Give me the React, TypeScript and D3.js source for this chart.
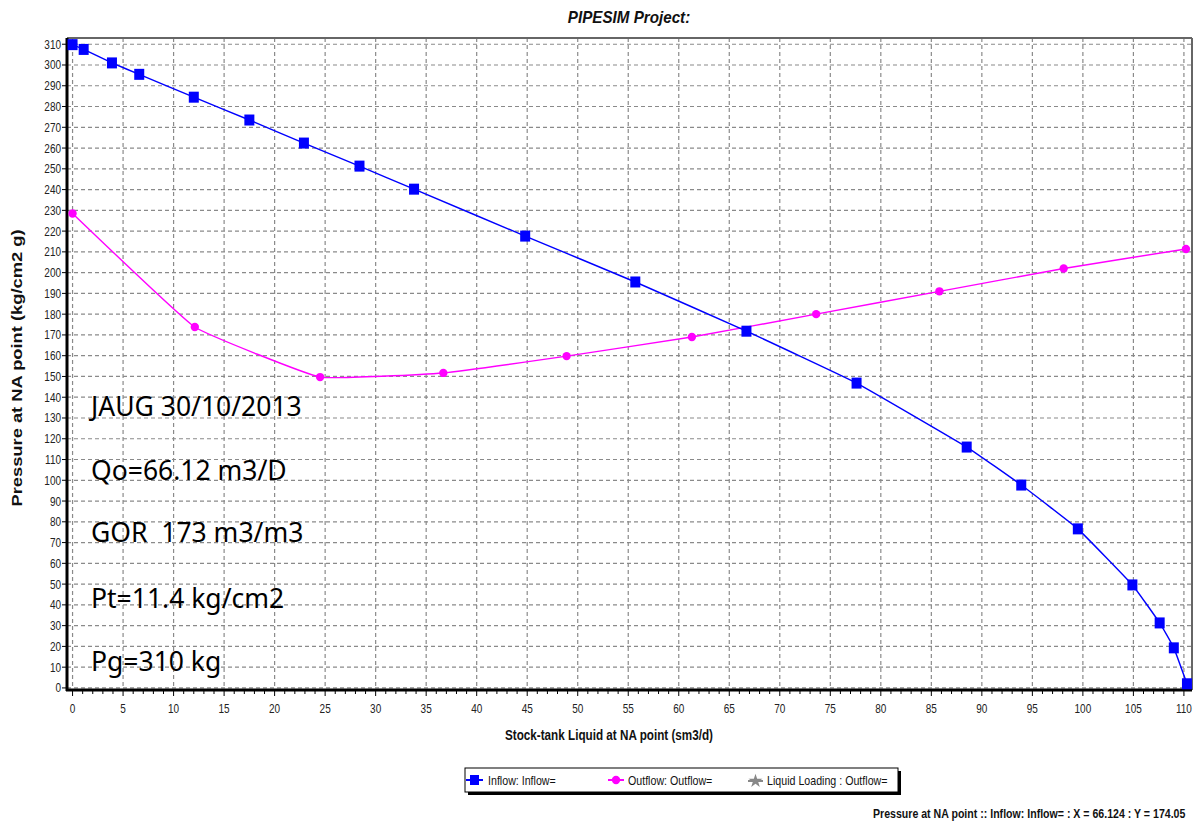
import React from "react";
import * as d3 from "d3";

// Inflow (IPR) curve
const inflowX = [0, 1.1, 3.9, 6.6, 12.0, 17.5, 22.9, 28.4, 33.8, 44.8, 55.7, 66.7, 77.6, 88.5, 93.9, 99.5, 104.9, 107.6, 109.0, 110.3];
const inflowY = [309.8, 307.5, 301, 295.5, 284.5, 273.5, 262.4, 251.3, 240.2, 217.6, 195.5, 171.8, 146.8, 116, 97.7, 76.6, 49.6, 31.3, 19.3, 2];

// Outflow (VLP) curve
const outflowX = [0, 12.1, 24.5, 36.7, 48.9, 61.3, 73.6, 85.8, 98.1, 110.2];
const outflowY = [228.5, 173.8, 149.7, 151.7, 159.8, 169, 180, 191, 202, 211.4];

const xTicks = d3.range(0, 111, 5);
const xMinor = d3.range(0, 111, 1);
const yTicks = d3.range(0, 311, 10);

const notes = ["JAUG 30/10/2013", "Qo=66.12 m3/D", "GOR  173 m3/m3", "Pt=11.4 kg/cm2", "Pg=310 kg"];
const noteY = [135, 104, 74, 42.5, 12];

const legendItems = ["Inflow: Inflow=", "Outflow: Outflow=", "Liquid Loading : Outflow="];

const W = 1204;
const H = 823;
const sans = "'Liberation Sans', Arial, sans-serif";

// narrow label: regular sans squeezed horizontally
function Narrow(props: { x: number; y: number; anchor?: string; size?: number; bold?: boolean; sx?: number; fill?: string; children: any }) {
  return (
    <g transform={`translate(${props.x},${props.y}) scale(${props.sx || 0.8},1)`}>
      <text
        textAnchor={props.anchor || "start"}
        fontFamily={sans}
        fontSize={props.size || 12.5}
        fontWeight={props.bold ? "bold" : "normal"}
        fill={props.fill || "#222"}
      >
        {props.children}
      </text>
    </g>
  );
}

export default function App() {
  const x = d3.scaleLinear().domain([-0.55, 110.8]).range([67, 1192]);
  const y = d3.scaleLinear().domain([-1, 313]).range([690, 38]);

  const inflow = inflowX.map((v, i) => [v, inflowY[i]] as [number, number]);
  const outflow = outflowX.map((v, i) => [v, outflowY[i]] as [number, number]);

  const line = d3
    .line<[number, number]>()
    .x((d) => x(d[0]))
    .y((d) => y(d[1]))
    .curve(d3.curveCardinal.tension(0.7));

  const star = d3.symbol().type(d3.symbolStar).size(60)();
  const dot = d3.symbol().type(d3.symbolCircle).size(55)();

  const left = 67, right = 1192, top = 38, bottom = 690;

  return (
    <svg width={W} height={H} style={{ position: "absolute", left: 0, top: 0, background: "#fff" }}>
      <Narrow x={629} y={23} anchor="middle" size={16} bold sx={0.95} fill="#111">
        <tspan fontStyle="italic">PIPESIM Project:</tspan>
      </Narrow>

      {/* grid */}
      <g stroke="#8a8a8a" strokeWidth={1.2} strokeDasharray="4,3">
        {yTicks.map((t) => (
          <line key={"gy" + t} x1={left} x2={right} y1={y(t)} y2={y(t)} />
        ))}
        {xTicks.map((t) => (
          <line key={"gx" + t} x1={x(t)} x2={x(t)} y1={top} y2={bottom} />
        ))}
      </g>

      {/* frame */}
      <line x1={left} x2={right} y1={top} y2={top} stroke="#666" strokeWidth={2} />
      <line x1={right} x2={right} y1={top} y2={bottom} stroke="#666" strokeWidth={2} />
      <line x1={left} x2={left} y1={top} y2={bottom + 1} stroke="#000" strokeWidth={3} />
      <line x1={left - 1} x2={right} y1={bottom} y2={bottom} stroke="#000" strokeWidth={3} />

      {/* y axis */}
      {yTicks.map((t) => (
        <g key={"yt" + t}>
          <line x1={left - 5} x2={left} y1={y(t)} y2={y(t)} stroke="#000" />
          <Narrow x={left - 6} y={y(t) + 4.5} anchor="end">{t}</Narrow>
        </g>
      ))}

      {/* x axis */}
      {xMinor.map((t) => (
        <line key={"xm" + t} x1={x(t)} x2={x(t)} y1={bottom} y2={bottom + (t % 5 === 0 ? 6 : 4)} stroke="#000" />
      ))}
      {xTicks.map((t) => (
        <Narrow key={"xt" + t} x={x(t)} y={bottom + 23} anchor="middle">{t}</Narrow>
      ))}

      <Narrow x={609} y={740} anchor="middle" size={15} bold sx={0.78} fill="#111">
        Stock-tank Liquid at NA point (sm3/d)
      </Narrow>
      <text
        transform="translate(22,368) rotate(-90)"
        textAnchor="middle"
        fontFamily={sans}
        fontWeight="bold"
        fontSize={14}
        fill="#111"
        textLength={277}
        lengthAdjust="spacingAndGlyphs"
      >
        Pressure at NA point (kg/cm2 g)
      </text>

      {/* annotations */}
      <g fontFamily="'Noto Sans', 'Open Sans', sans-serif" fontSize={26.5} fill="#000">
        {notes.map((n, i) => (
          <text key={n} x={91} y={y(noteY[i]) + 8} style={{ whiteSpace: "pre" }}>
            {n}
          </text>
        ))}
      </g>

      {/* series */}
      <path d={line(outflow) || ""} fill="none" stroke="#ff00ff" strokeWidth={1.4} />
      <path d={line(inflow) || ""} fill="none" stroke="#0000ff" strokeWidth={1.4} />
      {outflow.map((d, i) => (
        <path key={"o" + i} d={dot} transform={`translate(${x(d[0])},${y(d[1])})`} fill="#ff00ff" />
      ))}
      {inflow.map((d, i) => (
        <rect key={"i" + i} x={x(d[0]) - 5} y={y(d[1]) - 5.5} width={10} height={11} fill="#0000ff" />
      ))}

      {/* legend */}
      <rect x={468} y={771} width={433} height={24} fill="#000" />
      <rect x={465} y={768} width={433} height={24} fill="#fff" stroke="#000" strokeWidth={1} />
      <line x1={466} x2={483} y1={780} y2={780} stroke="#0000ff" strokeWidth={2} />
      <rect x={470} y={775} width={9} height={10} fill="#0000ff" />
      <Narrow x={488} y={785} size={13} sx={0.82} fill="#111">{legendItems[0]}</Narrow>
      <line x1={608} x2={624} y1={780} y2={780} stroke="#ff00ff" strokeWidth={2} />
      <path d={dot} transform="translate(616,780)" fill="#ff00ff" />
      <Narrow x={628} y={785} size={13} sx={0.82} fill="#111">{legendItems[1]}</Narrow>
      <line x1={748} x2={763} y1={781} y2={781} stroke="#888" strokeWidth={2} />
      <path d={star} transform="translate(755.5,781)" fill="#888" />
      <Narrow x={767} y={785} size={13} sx={0.82} fill="#111">{legendItems[2]}</Narrow>

      <Narrow x={873} y={818} size={13} bold sx={0.815} fill="#111">
        Pressure at NA point :: Inflow: Inflow= : X = 66.124 : Y = 174.05
      </Narrow>
    </svg>
  );
}
